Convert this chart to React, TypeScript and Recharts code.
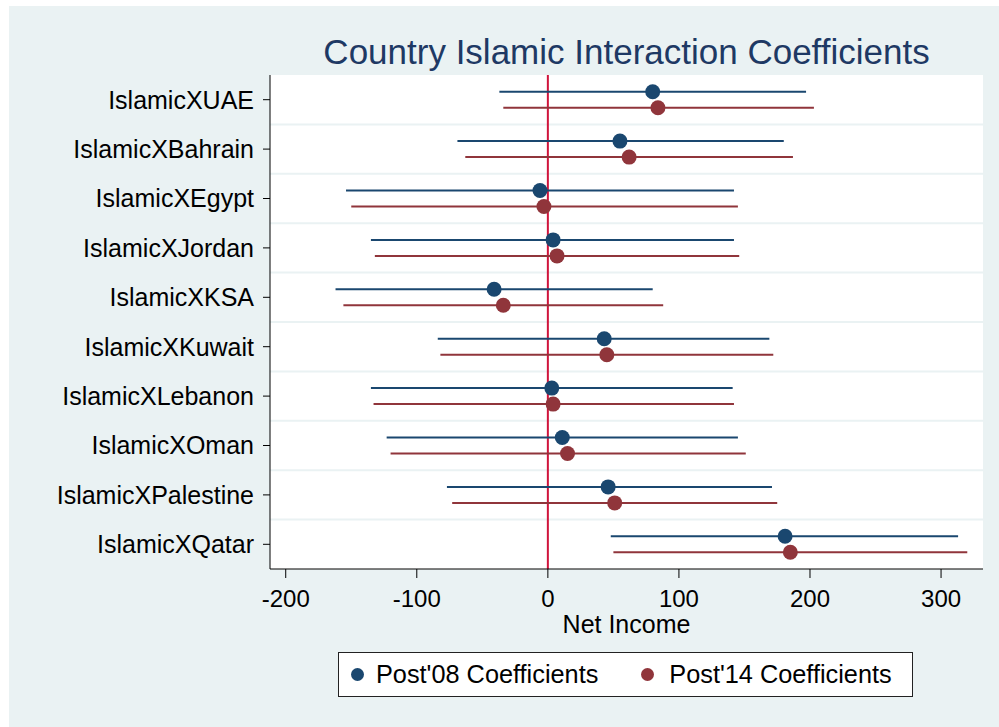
import React from "react";
import {
    ScatterChart,
    Scatter,
    ErrorBar,
    XAxis,
    YAxis,
    CartesianGrid,
    ReferenceLine,
    Legend,
} from "recharts";

const categories = [
    "IslamicXUAE",
    "IslamicXBahrain",
    "IslamicXEgypt",
    "IslamicXJordan",
    "IslamicXKSA",
    "IslamicXKuwait",
    "IslamicXLebanon",
    "IslamicXOman",
    "IslamicXPalestine",
    "IslamicXQatar",
];

const post08Coef = [80, 55, -6, 4, -41, 43, 3, 11, 46, 181];
const post08Low = [-37, -69, -154, -135, -162, -84, -135, -123, -77, 48];
const post08High = [197, 180, 142, 142, 80, 169, 141, 145, 171, 313];

const post14Coef = [84, 62, -3, 7, -34, 45, 4, 15, 51, 185];
const post14Low = [-34, -63, -150, -132, -156, -82, -133, -120, -73, 50];
const post14High = [203, 187, 145, 146, 88, 172, 142, 151, 175, 320];

const xTicks = [-200, -100, 0, 100, 200, 300];

const NAVY = "#1a476f";
const MAROON = "#90353b";
const BG = "#eaf2f3";
const FONT = "'Liberation Sans', Arial, sans-serif";

// rows sit on integer y positions, the two series are nudged up / down within a row
const ROW_SHIFT = 0.162;

const buildRows = (coef: number[], low: number[], high: number[], shift: number) =>
    coef.map((c, i) => ({
        name: categories[i],
        x: c,
        y: i + 1 + shift,
        err: [c - low[i], high[i] - c],
    }));

const post08Rows = buildRows(post08Coef, post08Low, post08High, -ROW_SHIFT);
const post14Rows = buildRows(post14Coef, post14Low, post14High, ROW_SHIFT);

const rowTicks = categories.map((_, i) => i + 1);
const rowBoundaries = categories.slice(1).map((_, i) => i + 1.5);

const dot = (color: string, r: number) => (props: any) =>
    <circle cx={props.cx} cy={props.cy} r={r} fill={color} />;

const LegendBox = () => (
    <div
        style={{
            boxSizing: "border-box",
            width: 575,
            height: 45,
            background: "#fff",
            border: "1px solid #222",
            display: "flex",
            alignItems: "center",
            fontFamily: FONT,
            fontSize: 25.3,
            color: "#000",
        }}
    >
        <svg width={13} height={13} style={{ marginLeft: 12 }}>
            <circle cx={6.5} cy={6.5} r={6.5} fill={NAVY} />
        </svg>
        <span style={{ marginLeft: 12 }}>Post'08 Coefficients</span>
        <svg width={13} height={13} style={{ marginLeft: 43 }}>
            <circle cx={6.5} cy={6.5} r={6.5} fill={MAROON} />
        </svg>
        <span style={{ marginLeft: 15 }}>Post'14 Coefficients</span>
    </div>
);

export default function App() {
    return (
        <div
            style={{
                position: "absolute",
                left: 9,
                top: 6,
                width: 990,
                height: 721,
                background: BG,
                fontFamily: FONT,
            }}
        >
            {/* title, centred over the plot region */}
            <div
                style={{
                    position: "absolute",
                    left: 261,
                    top: 26,
                    width: 713,
                    textAlign: "center",
                    fontSize: 35,
                    lineHeight: "40px",
                    color: "#1e3964",
                    whiteSpace: "nowrap",
                }}
            >
                Country Islamic Interaction Coefficients
            </div>

            <ScatterChart
                width={990}
                height={721}
                margin={{ top: 69, right: 16, bottom: 94, left: 0 }}
            >
                <CartesianGrid horizontal={false} vertical={false} fill="#fff" />
                {rowBoundaries.map((b) => (
                    <ReferenceLine key={b} y={b} stroke={BG} strokeWidth={2} />
                ))}
                <XAxis
                    type="number"
                    dataKey="x"
                    domain={[-212, 332]}
                    ticks={xTicks}
                    allowDataOverflow
                    height={64}
                    stroke="#000"
                    tickSize={9}
                    tickMargin={12}
                    tick={{ fill: "#000", fontSize: 24, fontFamily: FONT }}
                    label={{
                        value: "Net Income",
                        position: "insideBottom",
                        offset: 0,
                        fill: "#000",
                        fontSize: 25,
                        fontFamily: FONT,
                    }}
                />
                <YAxis
                    type="number"
                    dataKey="y"
                    domain={[0.5, 10.5]}
                    ticks={rowTicks}
                    reversed
                    interval={0}
                    width={261}
                    stroke="#000"
                    tickSize={7}
                    tickMargin={9}
                    tickFormatter={(v: number) => categories[v - 1] ?? ""}
                    tick={{ fill: "#000", fontSize: 25, fontFamily: FONT }}
                />
                <ReferenceLine x={0} stroke="#d0143c" strokeWidth={2} />
                <Scatter
                    name="Post'08 Coefficients"
                    data={post08Rows}
                    fill={NAVY}
                    shape={dot(NAVY, 7.5)}
                    isAnimationActive={false}
                >
                    <ErrorBar
                        dataKey="err"
                        direction="x"
                        width={0}
                        stroke={NAVY}
                        strokeWidth={2}
                        isAnimationActive={false}
                    />
                </Scatter>
                <Scatter
                    name="Post'14 Coefficients"
                    data={post14Rows}
                    fill={MAROON}
                    shape={dot(MAROON, 7.5)}
                    isAnimationActive={false}
                >
                    <ErrorBar
                        dataKey="err"
                        direction="x"
                        width={0}
                        stroke={MAROON}
                        strokeWidth={2}
                        isAnimationActive={false}
                    />
                </Scatter>
                <Legend
                    verticalAlign="middle"
                    content={() => <LegendBox />}
                    wrapperStyle={{ left: 329, top: 646, width: 575, height: 45 }}
                />
            </ScatterChart>
        </div>
    );
}
